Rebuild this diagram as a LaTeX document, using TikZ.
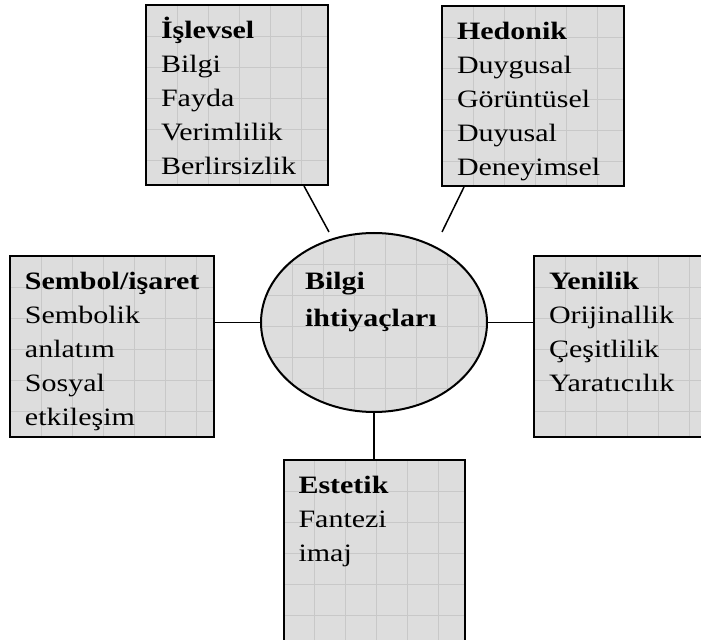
\documentclass[tikz,border=0pt]{standalone}
\usepackage{fontspec}
\setmainfont[FakeStretch=1.2]{Liberation Serif}
\usepackage{tikz}
\usetikzlibrary{positioning, shapes.geometric}
\usepackage{xcolor}
\definecolor{boxgray}{RGB}{221,221,221}
\definecolor{gridgray}{RGB}{200,200,200}

\begin{document}
\begin{tikzpicture}[
        x=0.5pt, y=-0.5pt,
        gridfill/.style={path picture={
            \foreach \k in {1,...,8} {
              \draw[gridgray, line width=0.4pt]
                ([xshift=\k*15.5pt]path picture bounding box.north west) --
                ([xshift=\k*15.5pt]path picture bounding box.south west);
              \draw[gridgray, line width=0.4pt]
                ([yshift=-\k*15.5pt]path picture bounding box.north west) --
                ([yshift=-\k*15.5pt]path picture bounding box.north east);
            }}},
        box/.style={rectangle, draw, line width=1pt, fill=boxgray, gridfill,
                    inner xsep=7.5pt, inner ysep=0pt, text height=17pt,
                    align=left, font=\fontsize{12.5}{17}\selectfont},
        hub/.style={ellipse, draw, line width=1pt, fill=boxgray, gridfill,
                    minimum width=113pt, minimum height=89.5pt, inner sep=0pt,
                    text width=69pt, text height=10pt, text depth=42.5pt,
                    align=left, font=\fontsize{12.5}{18.5}\selectfont\bfseries},
        link/.style={line width=0.75pt}
    ]
    \useasboundingbox (0,0) rectangle (701,640);

    %% centre
    \node[hub] (bilgi) at (374,322.5) {Bilgi\\ihtiya\c{c}lar\i};

    %% top boxes
    \node[box, text width=76pt, text depth=73pt,
          above=23pt of bilgi.north, anchor=south east, xshift=-22.5pt]
          (islevsel)
          {\textbf{\.I\c{s}levsel}\\Bilgi\\Fayda\\Verimlilik\\Berlirsizlik};
    \node[box, text width=76pt, text depth=73pt,
          above=22.5pt of bilgi.north, anchor=south west, xshift=33.5pt]
          (hedonik)
          {\textbf{Hedonik}\\Duygusal\\G\"or\"unt\"usel\\Duyusal\\Deneyimsel};

    %% side boxes
    \node[box, text width=87pt, text depth=73.5pt,
          left=22.5pt of bilgi, yshift=-12pt] (sembol)
          {\textbf{Sembol/i\c{s}aret}\\Sembolik\\anlat\i m\\Sosyal\\etkile\c{s}im};
    \node[box, text width=89pt, text depth=73.5pt,
          right=22.5pt of bilgi, yshift=-12pt] (yenilik)
          {\textbf{Yenilik}\\Orijinallik\\\c{C}e\c{s}itlilik\\Yarat\i c\i l\i k};

    %% bottom box
    \node[box, text width=75.5pt, text depth=73.5pt,
          below=23pt of bilgi] (estetik)
          {\textbf{Estetik}\\Fantezi\\imaj};

    %% connectors
    \coordinate (islend) at ([xshift=-22.5pt]bilgi.north);
    \coordinate (hedend) at ([xshift=34pt]bilgi.north);
    \draw[link] ([xshift=33.5pt]islevsel.south) -- (islend);
    \draw[link] ([xshift=-34.5pt]hedonik.south) -- (hedend);
    \draw[link] (bilgi.west) -- (bilgi.west -| sembol.east);
    \draw[link] (bilgi.east) -- (bilgi.east -| yenilik.west);
    \draw[link] (bilgi.south) -- (estetik.north);

\end{tikzpicture}
\end{document}
